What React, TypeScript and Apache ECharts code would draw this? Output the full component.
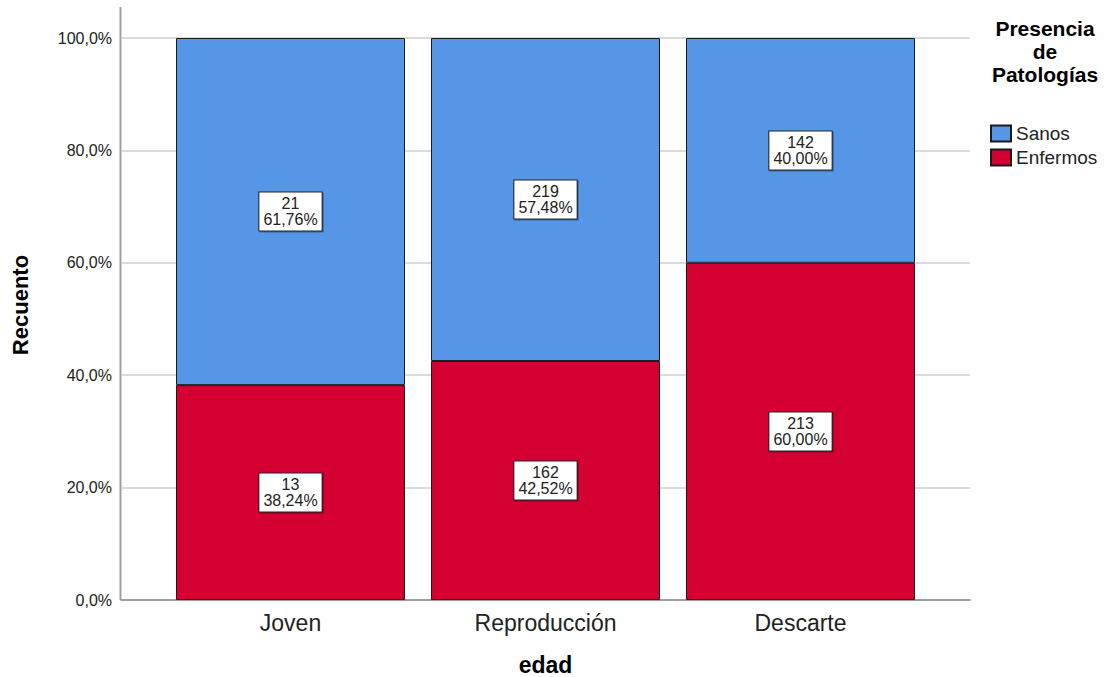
import React, { useEffect, useRef } from "react";
import * as echarts from "echarts";

const categories = ["Joven", "Reproducción", "Descarte"];
const sanosCounts = [21, 219, 142];
const enfermosCounts = [13, 162, 213];
const seriesNames = ["Sanos", "Enfermos"];
const yTicks = [0, 20, 40, 60, 80, 100];
const legendTitle = "Presencia\nde\nPatologías";
const xTitle = "edad";
const yTitle = "Recuento";

const BLUE = "#5596E6";
const RED = "#D50032";
const FONT = "'Liberation Sans', Arial, sans-serif";

const totals = categories.map((_, i) => sanosCounts[i] + enfermosCounts[i]);
const pct = (arr: number[]) => arr.map((v, i) => (v / totals[i]) * 100);
const fmtPct = (v: number) => v.toFixed(2).replace(".", ",") + "%";

export default function App() {
  const ref = useRef<HTMLDivElement>(null);
  useEffect(() => {
    if (!ref.current) return;
    const chart = echarts.init(ref.current, null, { renderer: "svg" });
    const labelStyle = (counts: number[]) => ({
      show: true,
      position: "inside",
      formatter: (p: any) => `${counts[p.dataIndex]}\n${fmtPct(p.value)}`,
      backgroundColor: "#ffffff",
      borderColor: "#222222",
      borderWidth: 1,
      padding: [3, 4],
      fontSize: 16,
      lineHeight: 16,
      color: "#222222",
      fontFamily: FONT,
      shadowColor: "rgba(0,0,0,0.35)",
      shadowOffsetX: 1,
      shadowOffsetY: 1,
      shadowBlur: 1,
    });
    chart.setOption({
      animation: false,
      backgroundColor: "#ffffff",
      textStyle: { fontFamily: FONT },
      grid: [
        { left: 121, right: 141, top: 38, bottom: 77, outerBoundsMode: "none", containLabel: false },
        { left: 163, right: 183, top: 38, bottom: 77, outerBoundsMode: "none", containLabel: false },
      ],
      xAxis: [
        {
          type: "category",
          gridIndex: 0,
          data: [""],
          axisLine: { show: true, lineStyle: { color: "#8c8c8c", width: 1.5 } },
          axisTick: { show: false },
          axisLabel: { show: false },
        },
        {
          type: "category",
          gridIndex: 1,
          data: categories,
          axisLine: { show: false },
          axisTick: { show: false },
          axisLabel: { fontSize: 23, color: "#222222", margin: 11, fontFamily: FONT },
          name: xTitle,
          nameLocation: "middle",
          nameGap: 53,
          nameTextStyle: { fontSize: 23, fontWeight: "bold", color: "#000000", fontFamily: FONT },
        },
      ],
      yAxis: [
        {
          type: "value",
          gridIndex: 0,
          min: yTicks[0],
          max: yTicks[yTicks.length - 1],
          interval: 20,
          axisLine: { show: false },
          axisTick: { show: false },
          axisLabel: {
            fontSize: 16,
            color: "#222222",
            margin: 9,
            fontFamily: FONT,
            formatter: (v: number) => v.toFixed(1).replace(".", ",") + "%",
          },
          splitLine: { show: true, lineStyle: { color: "#cfcfcf", width: 1.5 } },
        },
        {
          type: "value",
          gridIndex: 1,
          min: 0,
          max: 100,
          show: false,
        },
      ],
      legend: {
        orient: "vertical",
        left: 985,
        top: 119,
        itemWidth: 20,
        itemHeight: 16,
        itemGap: 5,
        icon: "rect",
        textStyle: { fontSize: 19, color: "#222222", fontFamily: FONT },
        data: seriesNames,
      },
      graphic: [
        {
          type: "line",
          shape: { x1: 120.5, y1: 7, x2: 120.5, y2: 600 },
          style: { stroke: "#a0a0a0", lineWidth: 2 },
        },
        {
          type: "text",
          x: 1045,
          y: 17,
          style: {
            text: legendTitle,
            textAlign: "center",
            fontSize: 21,
            fontWeight: "bold",
            lineHeight: 23,
            fill: "#000000",
            fontFamily: FONT,
          },
        },
        {
          type: "text",
          x: 20,
          y: 305,
          rotation: Math.PI / 2,
          style: {
            text: yTitle,
            textAlign: "center",
            textVerticalAlign: "middle",
            fontSize: 22,
            fontWeight: "bold",
            fill: "#000000",
            fontFamily: FONT,
          },
        },
      ],
      series: [
        {
          name: "Enfermos",
          type: "bar",
          stack: "total",
          xAxisIndex: 1,
          yAxisIndex: 1,
          barWidth: 229,
          data: pct(enfermosCounts),
          itemStyle: { color: RED, borderColor: "#1a1a1a", borderWidth: 1 },
          label: labelStyle(enfermosCounts),
        },
        {
          name: "Sanos",
          type: "bar",
          stack: "total",
          xAxisIndex: 1,
          yAxisIndex: 1,
          barWidth: 229,
          data: pct(sanosCounts),
          itemStyle: { color: BLUE, borderColor: "#1a1a1a", borderWidth: 1 },
          label: labelStyle(sanosCounts),
        },
      ],
    });
    return () => chart.dispose();
  }, []);
  return (
    <div
      ref={ref}
      style={{ position: "fixed", left: 0, top: 0, width: 1111, height: 677 }}
    />
  );
}
